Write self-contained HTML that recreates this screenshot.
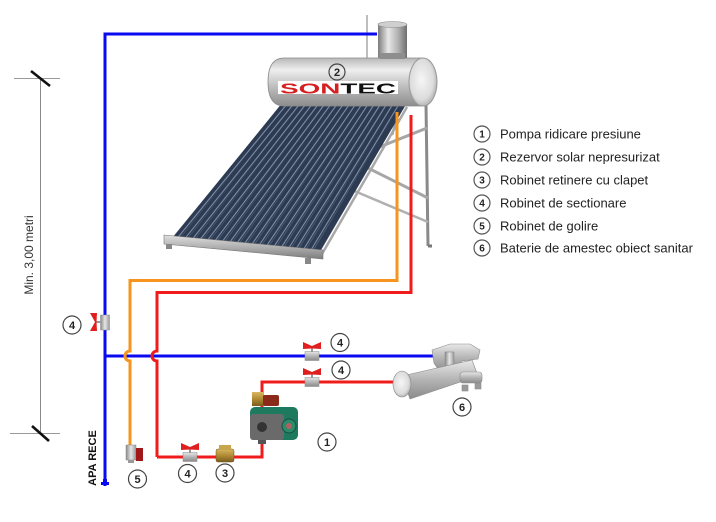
<!DOCTYPE html>
<html><head><meta charset="utf-8">
<style>
html,body{margin:0;padding:0;background:#fff;}
svg{display:block;}
text{font-family:"Liberation Sans",Arial,sans-serif;}
</style></head>
<body>
<svg width="716" height="522" viewBox="0 0 716 522" xmlns="http://www.w3.org/2000/svg">
<defs>
  <linearGradient id="tankG" x1="0" y1="0" x2="0" y2="1">
    <stop offset="0" stop-color="#b8b8b8"/>
    <stop offset="0.25" stop-color="#eeeeee"/>
    <stop offset="0.55" stop-color="#c4c4c4"/>
    <stop offset="1" stop-color="#8c8c8c"/>
  </linearGradient>
  <radialGradient id="capG" cx="0.45" cy="0.45" r="0.6">
    <stop offset="0" stop-color="#f6f6f6"/>
    <stop offset="0.7" stop-color="#dcdcdc"/>
    <stop offset="1" stop-color="#a8a8a8"/>
  </radialGradient>
  <linearGradient id="chimG" x1="0" y1="0" x2="1" y2="0">
    <stop offset="0" stop-color="#7a7a7a"/>
    <stop offset="0.35" stop-color="#e8e8e8"/>
    <stop offset="0.7" stop-color="#b0b0b0"/>
    <stop offset="1" stop-color="#6e6e6e"/>
  </linearGradient>
  <linearGradient id="silver" x1="0" y1="0" x2="0" y2="1">
    <stop offset="0" stop-color="#e8e8e8"/>
    <stop offset="0.5" stop-color="#b4b4b4"/>
    <stop offset="1" stop-color="#8a8a8a"/>
  </linearGradient>
  <linearGradient id="silverH" x1="0" y1="0" x2="1" y2="0">
    <stop offset="0" stop-color="#8a8a8a"/>
    <stop offset="0.5" stop-color="#e6e6e6"/>
    <stop offset="1" stop-color="#9a9a9a"/>
  </linearGradient>
  <linearGradient id="railG" x1="0" y1="0" x2="0" y2="1">
    <stop offset="0" stop-color="#e0e0e0"/>
    <stop offset="0.5" stop-color="#b0b0b0"/>
    <stop offset="1" stop-color="#7c7c7c"/>
  </linearGradient>
  <linearGradient id="brass" x1="0" y1="0" x2="0" y2="1">
    <stop offset="0" stop-color="#d8b860"/>
    <stop offset="0.5" stop-color="#b08a34"/>
    <stop offset="1" stop-color="#7a5c1e"/>
  </linearGradient>
</defs>

<!-- dimension line -->
<line x1="40.5" y1="78" x2="40.5" y2="433" stroke="#8a8a8a" stroke-width="1"/>
<line x1="14" y1="78.5" x2="60" y2="78.5" stroke="#9a9a9a" stroke-width="1"/>
<line x1="10" y1="433.5" x2="60" y2="433.5" stroke="#9a9a9a" stroke-width="1"/>
<line x1="31" y1="71" x2="50" y2="86" stroke="#111" stroke-width="2.6"/>
<line x1="32" y1="426" x2="49" y2="441" stroke="#111" stroke-width="2.6"/>
<text transform="translate(33,255) rotate(-90)" text-anchor="middle" font-size="12" fill="#333">Min. 3,00 metri</text>

<!-- Solar heater: struts and legs -->
<line x1="426" y1="104" x2="428" y2="246" stroke="#8a8a8a" stroke-width="3"/>
<line x1="428" y1="246" x2="432" y2="246" stroke="#777" stroke-width="3"/>
<line x1="368" y1="168" x2="428" y2="198" stroke="#a6a6a6" stroke-width="3"/>
<line x1="372" y1="150" x2="427" y2="128" stroke="#a6a6a6" stroke-width="3"/>
<line x1="352" y1="190" x2="428" y2="222" stroke="#b0b0b0" stroke-width="2.5"/>
<line x1="400" y1="108" x2="392" y2="135" stroke="#999" stroke-width="2.5"/>

<!-- panel tubes -->
<polygon points="285,100 405,106 320,252 172,238" fill="#4a586e"/>
<g stroke="#2c3a52" stroke-width="5.4" stroke-linecap="round">
<line x1="288" y1="100" x2="175.7" y2="238.4"/>
<line x1="294" y1="100.5" x2="183.1" y2="239.1"/>
<line x1="300" y1="100.8" x2="190.5" y2="239.8"/>
<line x1="306" y1="101.1" x2="197.9" y2="240.5"/>
<line x1="312" y1="101.4" x2="205.3" y2="241.2"/>
<line x1="318" y1="101.7" x2="212.7" y2="241.9"/>
<line x1="324" y1="102" x2="220.1" y2="242.6"/>
<line x1="330" y1="102.3" x2="227.5" y2="243.3"/>
<line x1="336" y1="102.6" x2="234.9" y2="244"/>
<line x1="342" y1="102.9" x2="242.3" y2="244.7"/>
<line x1="348" y1="103.2" x2="249.7" y2="245.4"/>
<line x1="354" y1="103.5" x2="257.1" y2="246.1"/>
<line x1="360" y1="103.8" x2="264.5" y2="246.8"/>
<line x1="366" y1="104.1" x2="271.9" y2="247.5"/>
<line x1="372" y1="104.4" x2="279.3" y2="248.2"/>
<line x1="378" y1="104.7" x2="286.7" y2="248.9"/>
<line x1="384" y1="105" x2="294.1" y2="249.6"/>
<line x1="390" y1="105.3" x2="301.5" y2="250.3"/>
<line x1="396" y1="105.6" x2="308.9" y2="251"/>
<line x1="402" y1="105.9" x2="316.3" y2="251.7"/>
</g>
<g stroke="#7e8ea8" stroke-width="1.1">
<line x1="289.5" y1="101" x2="177.4" y2="238"/>
<line x1="295.5" y1="101.5" x2="184.8" y2="238.7"/>
<line x1="301.5" y1="101.8" x2="192.2" y2="239.4"/>
<line x1="307.5" y1="102.1" x2="199.6" y2="240.1"/>
<line x1="313.5" y1="102.4" x2="207" y2="240.8"/>
<line x1="319.5" y1="102.7" x2="214.4" y2="241.5"/>
<line x1="325.5" y1="103" x2="221.8" y2="242.2"/>
<line x1="331.5" y1="103.3" x2="229.2" y2="242.9"/>
<line x1="337.5" y1="103.6" x2="236.6" y2="243.6"/>
<line x1="343.5" y1="103.9" x2="244" y2="244.3"/>
<line x1="349.5" y1="104.2" x2="251.4" y2="245"/>
<line x1="355.5" y1="104.5" x2="258.8" y2="245.7"/>
<line x1="361.5" y1="104.8" x2="266.2" y2="246.4"/>
<line x1="367.5" y1="105.1" x2="273.6" y2="247.1"/>
<line x1="373.5" y1="105.4" x2="281" y2="247.8"/>
<line x1="379.5" y1="105.7" x2="288.4" y2="248.5"/>
<line x1="385.5" y1="106" x2="295.8" y2="249.2"/>
<line x1="391.5" y1="106.3" x2="303.2" y2="249.9"/>
<line x1="397.5" y1="106.6" x2="310.6" y2="250.6"/>
</g>
<!-- side frame -->
<line x1="407" y1="107" x2="322" y2="254" stroke="#a8a8a8" stroke-width="2.5"/>
<!-- bottom rail -->
<polygon points="164,235 323,250 323,259 164,244" fill="url(#railG)" stroke="#777" stroke-width="0.6"/>
<rect x="166" y="244" width="6" height="5" fill="#888"/>
<rect x="305" y="258" width="6" height="6" fill="#888"/>
<!-- manifold under tank -->
<rect x="283" y="97" width="124" height="5" fill="#9a9a9a"/>

<!-- tank -->
<path d="M284,58 H423 V106 H284 Q268,106 268,82 Q268,58 284,58 Z" fill="url(#tankG)" stroke="#8a8a8a" stroke-width="0.8"/>
<ellipse cx="423" cy="82" rx="14" ry="24" fill="url(#capG)" stroke="#999" stroke-width="1"/>
<!-- chimney -->
<rect x="378" y="24" width="29" height="34" fill="url(#chimG)"/>
<ellipse cx="392.5" cy="24.5" rx="14.5" ry="3" fill="#cfcfcf" stroke="#888" stroke-width="0.6"/>
<rect x="380" y="53" width="25" height="6" fill="#8e8e8e"/>
<line x1="367" y1="15" x2="367" y2="58" stroke="#9a9a9a" stroke-width="1.3"/>
<!-- SONTEC -->
<rect x="278" y="81" width="120" height="13" fill="#fff"/>
<text x="280" y="93.5" font-size="15" font-weight="bold" textLength="116" lengthAdjust="spacingAndGlyphs" fill="#111"><tspan fill="#d42020">SON</tspan>TEC</text>

<!-- pipes -->
<g fill="none" stroke-width="3" stroke-linejoin="miter">
  <path d="M105,486 V34 H377" stroke="#0a0af0"/>
  <path d="M105,356 H434" stroke="#0a0af0"/>
  <path d="M130,447 V361 A5,5 0 0 1 130,351 V280.5 H397 V112" stroke="#f7941d"/>
  <path d="M157,457 V361 A5,5 0 0 1 157,351 V292.5 H411 V115" stroke="#f01c1c"/>
  <path d="M157,457 H262 V382 H393" stroke="#f01c1c"/>
</g>
<!-- cold water inlet marker -->
<rect x="101" y="482" width="8" height="3" fill="#0a0af0"/>
<rect x="103" y="479" width="4" height="3" fill="#0a0af0"/>
<text transform="translate(96,458) rotate(-90)" text-anchor="middle" font-size="11" font-weight="bold" fill="#111">APA RECE</text>

<!-- valves horizontal -->
<g>
  <rect x="305" y="351.5" width="14" height="9" fill="url(#silver)" stroke="#888" stroke-width="0.5"/>
  <rect x="311" y="347" width="2" height="5" fill="#999"/>
  <path d="M303,342 L312,346 L321,342 L321,349 L312,348.5 L303,349 Z" fill="#e02020"/>
</g>
<g>
  <rect x="305" y="377.5" width="14" height="9" fill="url(#silver)" stroke="#888" stroke-width="0.5"/>
  <rect x="311" y="373" width="2" height="5" fill="#999"/>
  <path d="M303,368 L312,372 L321,368 L321,375 L312,374.5 L303,375 Z" fill="#e02020"/>
</g>
<g>
  <rect x="183" y="452.5" width="14" height="9" fill="url(#silver)" stroke="#888" stroke-width="0.5"/>
  <rect x="189" y="448" width="2" height="5" fill="#999"/>
  <path d="M181,443 L190,447 L199,443 L199,450 L190,449.5 L181,450 Z" fill="#e02020"/>
</g>
<!-- left vertical valve -->
<g>
  <rect x="100.5" y="315" width="9" height="15" fill="url(#silverH)" stroke="#888" stroke-width="0.5"/>
  <rect x="96" y="321" width="5" height="2" fill="#999"/>
  <path d="M90,313 L95,322 L90,331 L97,331 L96.5,322 L97,313 Z" fill="#e02020"/>
</g>
<!-- drain valve 5 -->
<g>
  <rect x="126" y="445" width="10" height="15" fill="url(#silverH)" stroke="#888" stroke-width="0.5"/>
  <rect x="128" y="460" width="6" height="3" fill="#999"/>
  <rect x="136" y="448" width="7" height="13" fill="#a01818"/>
</g>
<!-- check valve 3 -->
<g>
  <rect x="216" y="449" width="18" height="13" rx="2" fill="url(#brass)" stroke="#6e531c" stroke-width="0.5"/>
  <rect x="219" y="445" width="12" height="5" fill="#c8a44c"/>
</g>

<!-- pump -->
<g>
  <rect x="252" y="392" width="11" height="14" fill="url(#brass)"/>
  <rect x="263" y="395" width="16" height="11" rx="2" fill="#8b2a1a"/>
  <rect x="250" y="407" width="48" height="33" rx="5" fill="#1e7a5e"/>
  <rect x="250" y="414" width="34" height="26" rx="3" fill="#6a6a6a"/>
  <circle cx="262" cy="427" r="5" fill="#333"/>
  <circle cx="289" cy="426" r="7" fill="#2a8a6a" stroke="#145040" stroke-width="1"/>
  <circle cx="289" cy="426" r="3" fill="#b06060"/>
  <rect x="258" y="440" width="8" height="4" fill="#555"/>
</g>

<!-- faucet -->
<g stroke="#8a8a8a" stroke-width="0.6">
  <path d="M432,350 L450,344 L470,344 L480,350 L478,359 L462,361 L454,370 L440,372 L434,363 Z" fill="url(#silver)"/>
  <rect x="445" y="352" width="9" height="24" fill="url(#silverH)"/>
  <path d="M402,376 L472,360 L478,376 L410,399 Z" fill="url(#silver)"/>
  <ellipse cx="402" cy="384" rx="9" ry="13" fill="url(#capG)"/>
  <rect x="460" y="372" width="22" height="11" rx="3" fill="url(#silver)"/>
  <rect x="462" y="385" width="6" height="6" fill="#9a9a9a"/>
  <rect x="475" y="383" width="6" height="6" fill="#9a9a9a"/>
</g>

<!-- labels in diagram -->
<g fill="#fff" stroke="#444" stroke-width="1.2">
  <circle cx="72" cy="325" r="9"/>
  <circle cx="137.5" cy="479" r="9"/>
  <circle cx="187.5" cy="473.5" r="9"/>
  <circle cx="225" cy="473" r="9"/>
  <circle cx="327" cy="442" r="9"/>
  <circle cx="340" cy="342.5" r="9"/>
  <circle cx="341" cy="370" r="9"/>
  <circle cx="462" cy="407" r="9"/>
  <circle cx="337" cy="72" r="8" fill="none"/>
</g>
<g font-size="11" font-weight="bold" fill="#222" text-anchor="middle">
  <text x="72" y="329">4</text>
  <text x="137.5" y="483">5</text>
  <text x="187.5" y="477.5">4</text>
  <text x="225" y="477">3</text>
  <text x="327" y="446">1</text>
  <text x="340" y="346.5">4</text>
  <text x="341" y="374">4</text>
  <text x="462" y="411">6</text>
  <text x="337" y="76">2</text>
</g>

<!-- legend -->
<g fill="#fff" stroke="#555" stroke-width="1.2">
  <circle cx="482" cy="134" r="8"/>
  <circle cx="482" cy="157" r="8"/>
  <circle cx="482" cy="180" r="8"/>
  <circle cx="482" cy="203" r="8"/>
  <circle cx="482" cy="226" r="8"/>
  <circle cx="482" cy="248" r="8"/>
</g>
<g font-size="10" font-weight="bold" fill="#222" text-anchor="middle">
  <text x="482" y="137.5">1</text>
  <text x="482" y="160.5">2</text>
  <text x="482" y="183.5">3</text>
  <text x="482" y="206.5">4</text>
  <text x="482" y="229.5">5</text>
  <text x="482" y="251.5">6</text>
</g>
<g font-size="13" fill="#222">
  <text x="500" y="138.5">Pompa ridicare presiune</text>
  <text x="500" y="161.5">Rezervor solar nepresurizat</text>
  <text x="500" y="184.5">Robinet retinere cu clapet</text>
  <text x="500" y="207.5">Robinet de sectionare</text>
  <text x="500" y="230.5">Robinet de golire</text>
  <text x="500" y="252.5">Baterie de amestec obiect sanitar</text>
</g>
</svg>
</body></html>
